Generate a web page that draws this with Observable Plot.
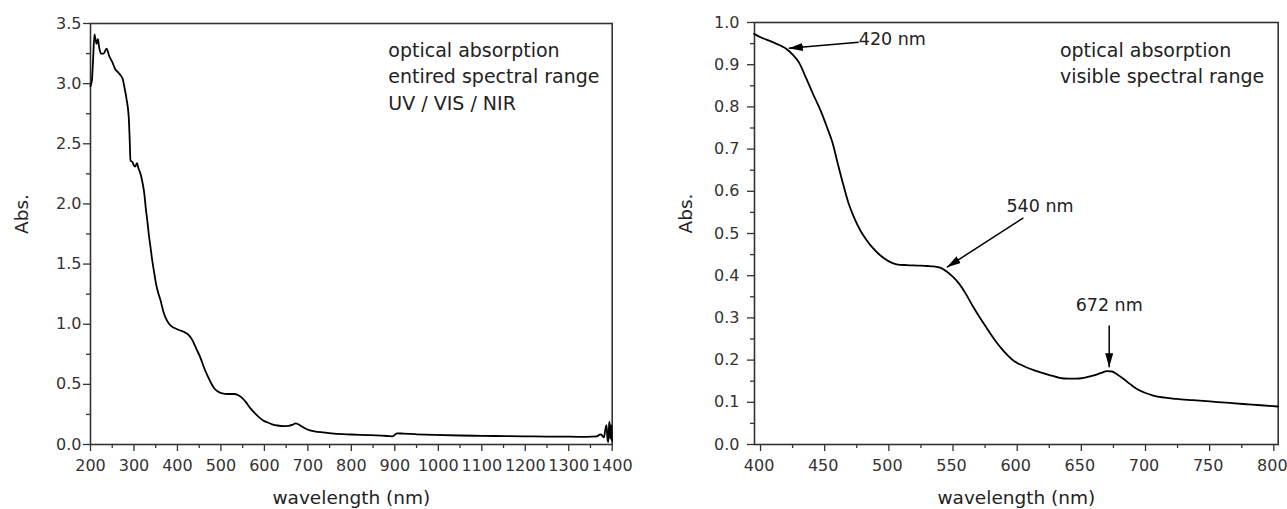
<!DOCTYPE html>
<html><head><meta charset="utf-8">
<script src="https://cdn.jsdelivr.net/npm/d3@7"></script>
<script src="https://cdn.jsdelivr.net/npm/@observablehq/plot@0.6"></script>
<style>
html,body{margin:0;padding:0;background:#fff;}
#wrap{position:relative;width:1287px;height:509px;overflow:hidden;background:#fff;}
#left{position:absolute;left:0;top:0;}
#right{position:absolute;left:640px;top:0;}
</style></head><body><div id="wrap"><div id="left"></div><div id="right"></div></div>
<script>
// ---- Entire spectral range (UV / VIS / NIR) ----
const fullNm = [200,203,206,209,212,214,217,220,224,230,237,243,250,257,262,269,274,278,283,288,290,292,296,300,303,307,310,315,320,324,327,331,334,338,342,346,350,355,361,368,376,384,392,405,418,426,434,443,453,461,468,476,484,493,503,515,530,540,548,558,568,578,588,597,606,618,630,645,655,664,672,678,685,693,703,715,735,760,800,840,870,885,895,900,905,920,950,990,1050,1100,1150,1200,1250,1300,1340,1365,1373,1378,1381,1384,1387,1389,1391,1393,1394,1395,1396,1397,1398,1399,1400];
const fullAbs = [2.98,3.02,3.20,3.41,3.36,3.33,3.37,3.30,3.25,3.25,3.29,3.23,3.18,3.12,3.10,3.07,3.04,2.97,2.87,2.72,2.55,2.36,2.35,2.32,2.31,2.34,2.30,2.25,2.17,2.08,1.97,1.85,1.75,1.64,1.53,1.44,1.35,1.27,1.20,1.10,1.03,0.99,0.97,0.95,0.93,0.91,0.87,0.80,0.72,0.64,0.58,0.52,0.47,0.44,0.425,0.42,0.42,0.41,0.39,0.35,0.30,0.26,0.225,0.20,0.185,0.168,0.158,0.153,0.155,0.163,0.175,0.168,0.152,0.135,0.120,0.110,0.100,0.090,0.083,0.078,0.073,0.070,0.068,0.080,0.093,0.090,0.085,0.080,0.075,0.072,0.070,0.068,0.066,0.065,0.064,0.068,0.085,0.070,0.060,0.120,0.160,0.050,0.020,0.170,0.190,0.080,0.050,0.140,0.160,0.050,0.030];
const fullXTicks = [200,300,400,500,600,700,800,900,1000,1100,1200,1300,1400];
const fullXMinor = [250,350,450,550,650,750,850,950,1050,1150,1250,1350];
const fullYTicks = [0,0.5,1.0,1.5,2.0,2.5,3.0,3.5];
const fullYMinor = [0.25,0.75,1.25,1.75,2.25,2.75,3.25];
const fullNote = [{text: "optical absorption\nentired spectral range\nUV / VIS / NIR", x: 885, y: 3.382}];

// ---- Visible spectral range ----
const visNm = [395,400,405,410,415,420,425,430,436,441,447,452,456,460,465,469,473,478,483,488,493,500,506,514,522,530,535,540,545,550,555,560,565,570,576,582,587,592,597,602,607,614,620,627,633,640,646,652,659,665,670,674,678,683,688,693,700,706,715,724,737,750,763,776,790,803];
const visAbs = [0.973,0.965,0.959,0.953,0.946,0.938,0.924,0.905,0.865,0.830,0.790,0.750,0.716,0.668,0.610,0.568,0.537,0.506,0.483,0.464,0.449,0.434,0.427,0.425,0.424,0.423,0.422,0.419,0.410,0.397,0.380,0.357,0.330,0.305,0.277,0.250,0.230,0.213,0.199,0.190,0.183,0.175,0.169,0.163,0.158,0.156,0.156,0.158,0.163,0.169,0.174,0.173,0.166,0.155,0.143,0.132,0.122,0.116,0.111,0.108,0.105,0.102,0.099,0.096,0.093,0.090];
const visXTicks = [400,450,500,550,600,650,700,750,800];
const visXMinor = [425,475,525,575,625,675,725,775];
const visYTicks = [0,0.1,0.2,0.3,0.4,0.5,0.6,0.7,0.8,0.9,1.0];
const visYMinor = [0.05,0.15,0.25,0.35,0.45,0.55,0.65,0.75,0.85,0.95];
const visNote = [{text: "optical absorption\nvisible spectral range", x: 633.3, y: 0.964}];
const peakLabels = [
  {label: "420 nm", x: 502.7, y: 0.961},
  {label: "540 nm", x: 617.8, y: 0.564},
  {label: "672 nm", x: 671.7, y: 0.329}
];
const peakArrows = [
  {x1: 476.5, y1: 0.953, x2: 422, y2: 0.939},
  {x1: 604.8, y1: 0.537, x2: 545.2, y2: 0.420},
  {x1: 671.7, y1: 0.282, x2: 671.7, y2: 0.183}
];

const FONT = "DejaVu Sans";
const INK = "#222";
const AXC = "#333";

function addArrowHeads(svg, id) {
  const s = d3.select(svg);
  s.append("defs").append("marker")
    .attr("id", id)
    .attr("markerUnits", "userSpaceOnUse")
    .attr("markerWidth", 14).attr("markerHeight", 8)
    .attr("viewBox", "0 0 14 8")
    .attr("refX", 14).attr("refY", 4)
    .attr("orient", "auto")
    .append("path").attr("d", "M0,0L14,4L0,8Z").attr("fill", "#000");
  s.selectAll('g[aria-label="link"] path').attr("marker-end", `url(#${id})`);
}

const fullData = fullNm.map((n, i) => ({nm: n, abs: fullAbs[i]}));
const visData = visNm.map((n, i) => ({nm: n, abs: visAbs[i]}));

const left = Plot.plot({
  width: 640, height: 509,
  marginLeft: 90, marginRight: 28.3, marginTop: 23, marginBottom: 65,
  style: {fontFamily: FONT, fontSize: "16px", color: INK, background: "white", overflow: "visible"},
  x: {domain: [200, 1400]},
  y: {domain: [0, 3.5]},
  marks: [
    Plot.axisX(fullXMinor, {tickSize: 4, tickFormat: () => "", label: null, color: AXC, strokeWidth: 1.3}),
    Plot.axisX(fullXTicks, {tickSize: 7, tickPadding: 8, tickFormat: d3.format("d"), label: null, color: AXC, strokeWidth: 1.3, fontSize: 16}),
    Plot.axisY(fullYMinor, {tickSize: 4, tickFormat: () => "", label: null, color: AXC, strokeWidth: 1.3}),
    Plot.axisY(fullYTicks, {tickSize: 7, tickPadding: 2, tickFormat: d3.format(".1f"), label: null, color: AXC, strokeWidth: 1.3, fontSize: 16}),
    Plot.frame({stroke: AXC, strokeWidth: 1.6}),
    Plot.line(fullData, {x: "nm", y: "abs", stroke: "#000", strokeWidth: 1.8, curve: "monotone-x"}),
    Plot.text(fullNote, {x: "x", y: "y", text: "text", textAnchor: "start", lineAnchor: "top", lineHeight: 1.41, fontSize: 19, fill: INK}),
    Plot.text(["wavelength (nm)"], {frameAnchor: "bottom", lineAnchor: "bottom", dy: 59, fontSize: 18.5, fill: INK}),
    Plot.text(["Abs."], {frameAnchor: "left", rotate: -90, lineAnchor: "bottom", dx: -63, fontSize: 18.5, fill: INK})
  ]
});
document.getElementById("left").appendChild(left);

const right = Plot.plot({
  width: 647, height: 509,
  marginLeft: 114, marginRight: 9.3, marginTop: 22, marginBottom: 65,
  style: {fontFamily: FONT, fontSize: "16px", color: INK, background: "white", overflow: "visible"},
  x: {domain: [395.3, 803.4]},
  y: {domain: [0, 1.0]},
  marks: [
    Plot.axisX(visXMinor, {tickSize: 4, tickFormat: () => "", label: null, color: AXC, strokeWidth: 1.3}),
    Plot.axisX(visXTicks, {tickSize: 7, tickFormat: () => "", label: null, color: AXC, strokeWidth: 1.3}),
    Plot.axisX(visXTicks, {tickSize: 0, tickPadding: 15, dx: -1.5, tickFormat: d3.format("d"), label: null, color: AXC, fontSize: 16}),
    Plot.axisY(visYMinor, {tickSize: 4, tickFormat: () => "", label: null, color: AXC, strokeWidth: 1.3}),
    Plot.axisY(visYTicks, {tickSize: 7, tickPadding: 8, tickFormat: d3.format(".1f"), label: null, color: AXC, strokeWidth: 1.3, fontSize: 16}),
    Plot.frame({stroke: AXC, strokeWidth: 1.6}),
    Plot.line(visData, {x: "nm", y: "abs", stroke: "#000", strokeWidth: 1.8, curve: "monotone-x"}),
    Plot.link(peakArrows, {x1: "x1", y1: "y1", x2: "x2", y2: "y2", stroke: "#000", strokeWidth: 1.5}),
    Plot.text(peakLabels, {x: "x", y: "y", text: "label", fontSize: 17.5, fill: INK}),
    Plot.text(visNote, {x: "x", y: "y", text: "text", textAnchor: "start", lineAnchor: "top", lineHeight: 1.41, fontSize: 19, fill: INK}),
    Plot.text(["wavelength (nm)"], {frameAnchor: "bottom", lineAnchor: "bottom", dy: 59, fontSize: 18.5, fill: INK}),
    Plot.text(["Abs."], {frameAnchor: "left", rotate: -90, lineAnchor: "bottom", dx: -63, fontSize: 18.5, fill: INK})
  ]
});
addArrowHeads(right, "ahR");
document.getElementById("right").appendChild(right);
</script>
</body></html>
